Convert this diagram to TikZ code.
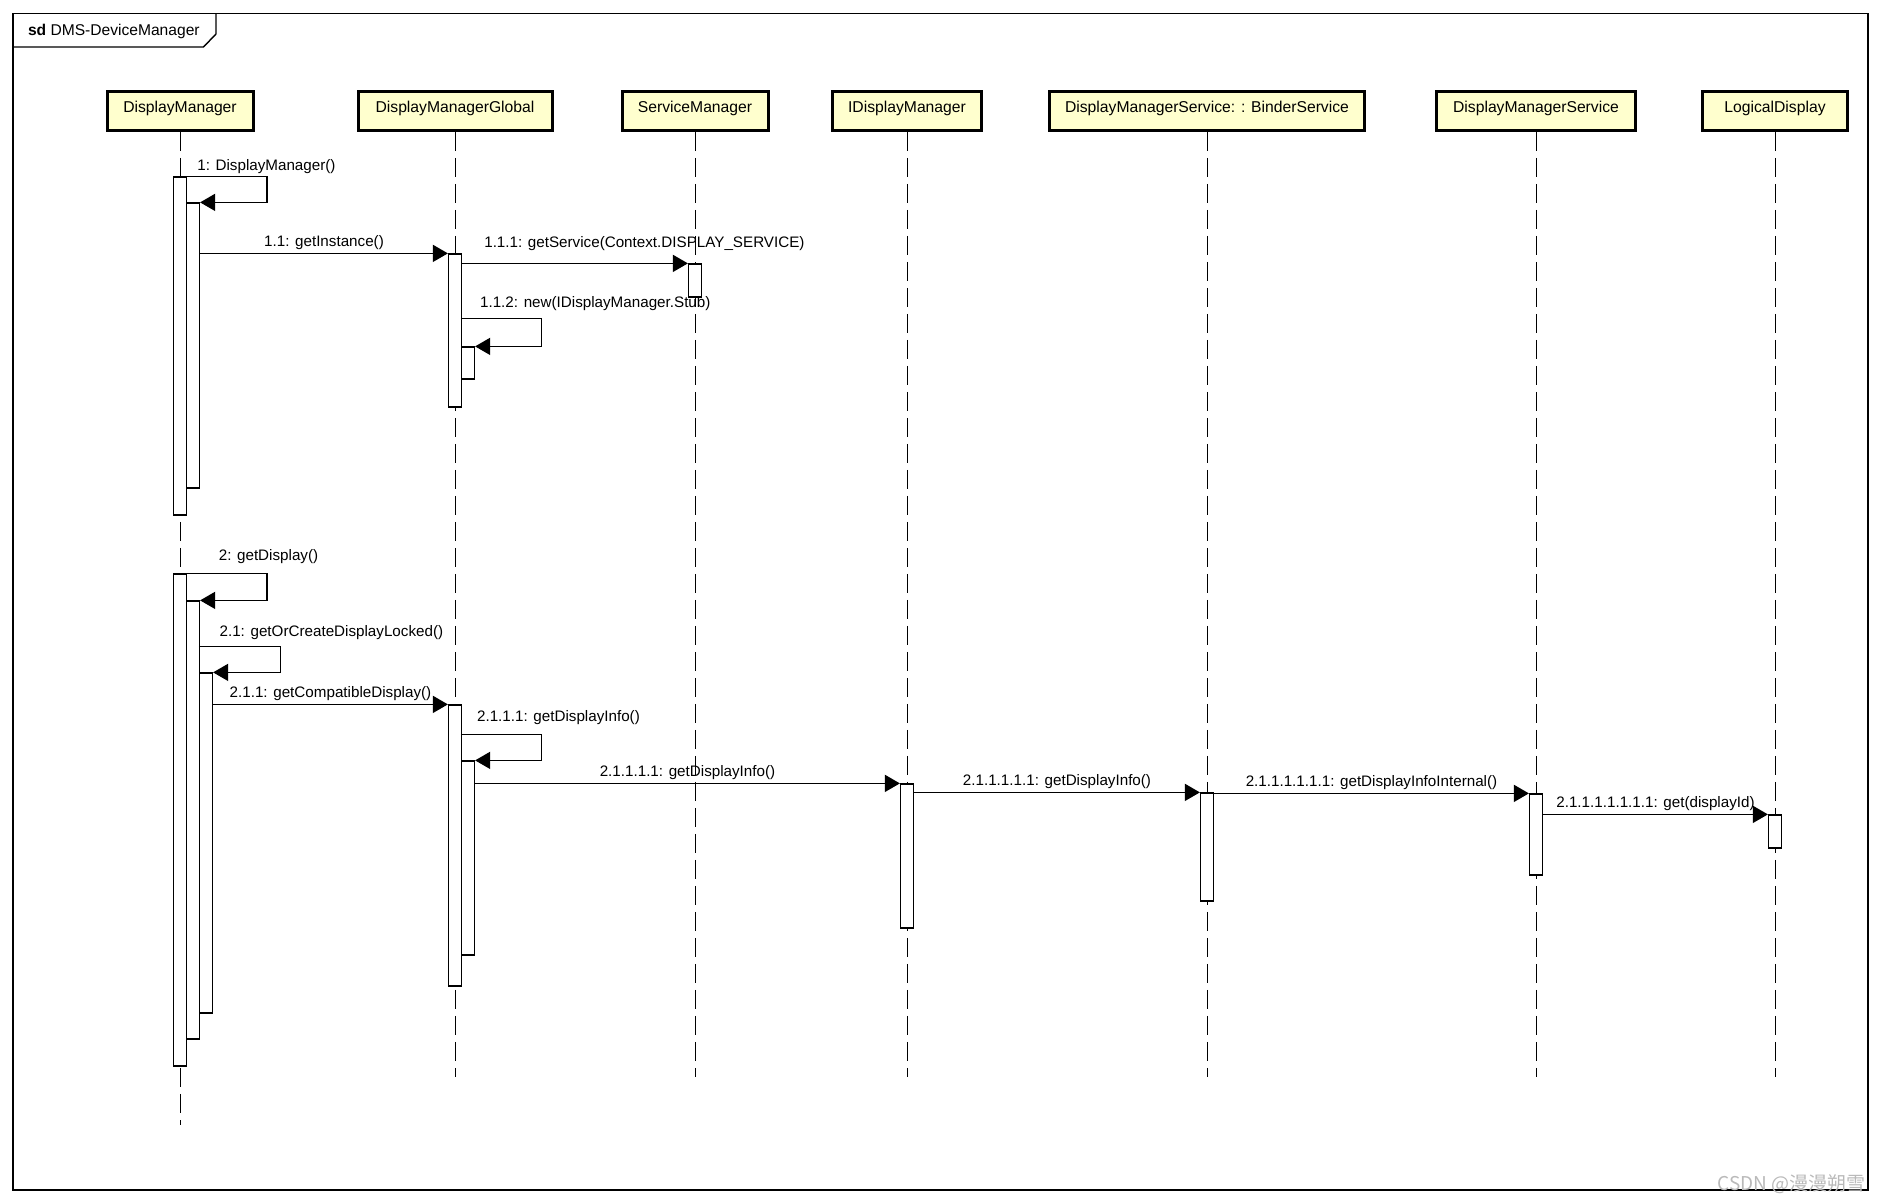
\documentclass[tikz,border=0pt]{standalone}
\usepackage{fontspec}
\setmainfont{Liberation Sans}
\newfontfamily\cjkfont{Noto Sans CJK SC}
\usetikzlibrary{arrows.meta, fit}
\definecolor{HeadFill}{RGB}{255, 255, 206}
\definecolor{MarkGray}{RGB}{185, 185, 185}

\begin{document}
\begin{tikzpicture}[
    x=0.5pt, y=-0.5pt,
    head/.style={draw, line width=1.5pt, fill=HeadFill, minimum height=19.5pt,
                 inner sep=2pt, text height=6pt, text depth=4.6pt,
                 font=\fontsize{7.85pt}{9pt}\selectfont},
    act/.style={draw, fill=white, line width=0.6pt, inner sep=0pt},
    life/.style={line width=0.5pt, dash pattern=on 9.5pt off 3.5pt},
    msg/.style={-{Triangle[length=7.5pt, width=8.5pt]}, line width=0.7pt},
    lbl/.style={font=\fontsize{7.6pt}{9pt}\selectfont, inner sep=1.5pt},
    frame/.style={line width=0.7pt},
    wm/.style={font=\cjkfont\fontsize{9.5pt}{11pt}\selectfont, MarkGray, inner sep=0pt}
    ]
    \useasboundingbox (0,0) rectangle (1881,1202);

    % frame and its tab
    \draw[frame] (13,13.5) rectangle (1868,1190);
    \draw[frame] (13,47) -- (203.5,47) -- (216,34) -- (216,13.5);
    \node[anchor=west, inner sep=2pt, font=\fontsize{7.8pt}{9pt}\selectfont] (title)
      at (23.6,31) {\textbf{sd} DMS-DeviceManager};

    % lifeline heads
    \node[head, minimum width=73pt]    (dm)  at (180,111)  {DisplayManager};
    \node[head, minimum width=97pt]    (dmg) at (455,111)  {DisplayManagerGlobal};
    \node[head, minimum width=73pt]    (sm)  at (695,111)  {ServiceManager};
    \node[head, minimum width=74.2pt]  (idm) at (907,111)  {IDisplayManager};
    \node[head, minimum width=157.7pt] (bs)  at (1207,111) {DisplayManagerService: : BinderService};
    \node[head, minimum width=99.2pt]  (dms) at (1536,111) {DisplayManagerService};
    \node[head, minimum width=72.8pt]  (ld)  at (1775,111) {LogicalDisplay};

    \coordinate (lifeEnd) at (0,1077);
    \coordinate (dmEnd)   at (0,1125);
    \draw[life] (dm.south) -- (dm.south |- dmEnd);
    \foreach \n in {dmg, sm, idm, bs, dms, ld}
      \draw[life] (\n.south) -- (\n.south |- lifeEnd);

    % activations
    \node[act, fit={(173.5,177) (186.5,515)}]   (dmA)  {};
    \node[act, fit={(186.5,203) (199.5,488)}]   (dmB)  {};
    \node[act, fit={(448.5,254) (461.5,407)}]   (dmgA) {};
    \node[act, fit={(688.5,264) (701.5,297)}]   (smA)  {};
    \node[act, fit={(461.5,347) (474.5,379)}]   (dmgB) {};
    \node[act, fit={(173.5,574) (186.5,1066)}]  (dmC)  {};
    \node[act, fit={(186.5,601) (199.5,1039)}]  (dmD)  {};
    \node[act, fit={(199.5,673) (212.5,1013)}]  (dmE)  {};
    \node[act, fit={(448.5,705) (461.5,986)}]   (dmgC) {};
    \node[act, fit={(461.5,761) (474.5,955)}]   (dmgD) {};
    \node[act, fit={(900.5,784) (913.5,928)}]   (idmA) {};
    \node[act, fit={(1200.5,793) (1213.5,901)}] (bsA)  {};
    \node[act, fit={(1529.5,794) (1542.5,875)}] (dmsA) {};
    \node[act, fit={(1768.5,815) (1781.5,848)}] (ldA)  {};

    % messages
    \draw[msg] (dmA.north east)
      node[lbl, anchor=west, xshift=3.25pt, yshift=5pt] {1: DisplayManager()}
      -- ++(80,0) |- (dmB.north east);
    \draw[msg] (dmB.east |- dmgA.north) -- node[lbl, above] {1.1: getInstance()} (dmgA.north west);
    \draw[msg] (dmgA.east |- smA.north)
      node[lbl, anchor=west, xshift=9.25pt, yshift=10pt] {1.1.1: getService(Context.DISPLAY\_SERVICE)}
      -- (smA.north west);
    \draw[msg] ([yshift=14pt]dmgB.north west)
      node[lbl, anchor=west, xshift=7.75pt, yshift=7.5pt] {1.1.2: new(IDisplayManager.Stub)}
      -- ++(80.5,0) |- (dmgB.north east);

    \draw[msg] (dmC.north east)
      node[lbl, anchor=west, xshift=14pt, yshift=8.5pt] {2: getDisplay()}
      -- ++(80,0) |- (dmD.north east);
    \draw[msg] ([yshift=13pt]dmE.north west)
      node[lbl, anchor=west, xshift=8.5pt, yshift=7pt] {2.1: getOrCreateDisplayLocked()}
      -- ++(81.5,0) |- (dmE.north east);
    \draw[msg] (dmE.east |- dmgC.north) -- node[lbl, above] {2.1.1: getCompatibleDisplay()} (dmgC.north west);
    \draw[msg] ([yshift=13pt]dmgD.north west)
      node[lbl, anchor=west, xshift=6.25pt, yshift=8.5pt] {2.1.1.1: getDisplayInfo()}
      -- ++(80.5,0) |- (dmgD.north east);
    \draw[msg] (dmgD.east |- idmA.north) -- node[lbl, above] {2.1.1.1.1: getDisplayInfo()} (idmA.north west);
    \draw[msg] (idmA.east |- bsA.north) -- node[lbl, above] {2.1.1.1.1.1: getDisplayInfo()} (bsA.north west);
    \draw[msg] (bsA.east |- dmsA.north) -- node[lbl, above] {2.1.1.1.1.1.1: getDisplayInfoInternal()} (dmsA.north west);
    \draw[msg] (dmsA.east |- ldA.north) -- node[lbl, above] {2.1.1.1.1.1.1.1: get(displayId)} (ldA.north west);

    \node[wm, anchor=east] (mark) at (1866,1184) {CSDN @漫漫朔雪};
  \end{tikzpicture}
\end{document}
